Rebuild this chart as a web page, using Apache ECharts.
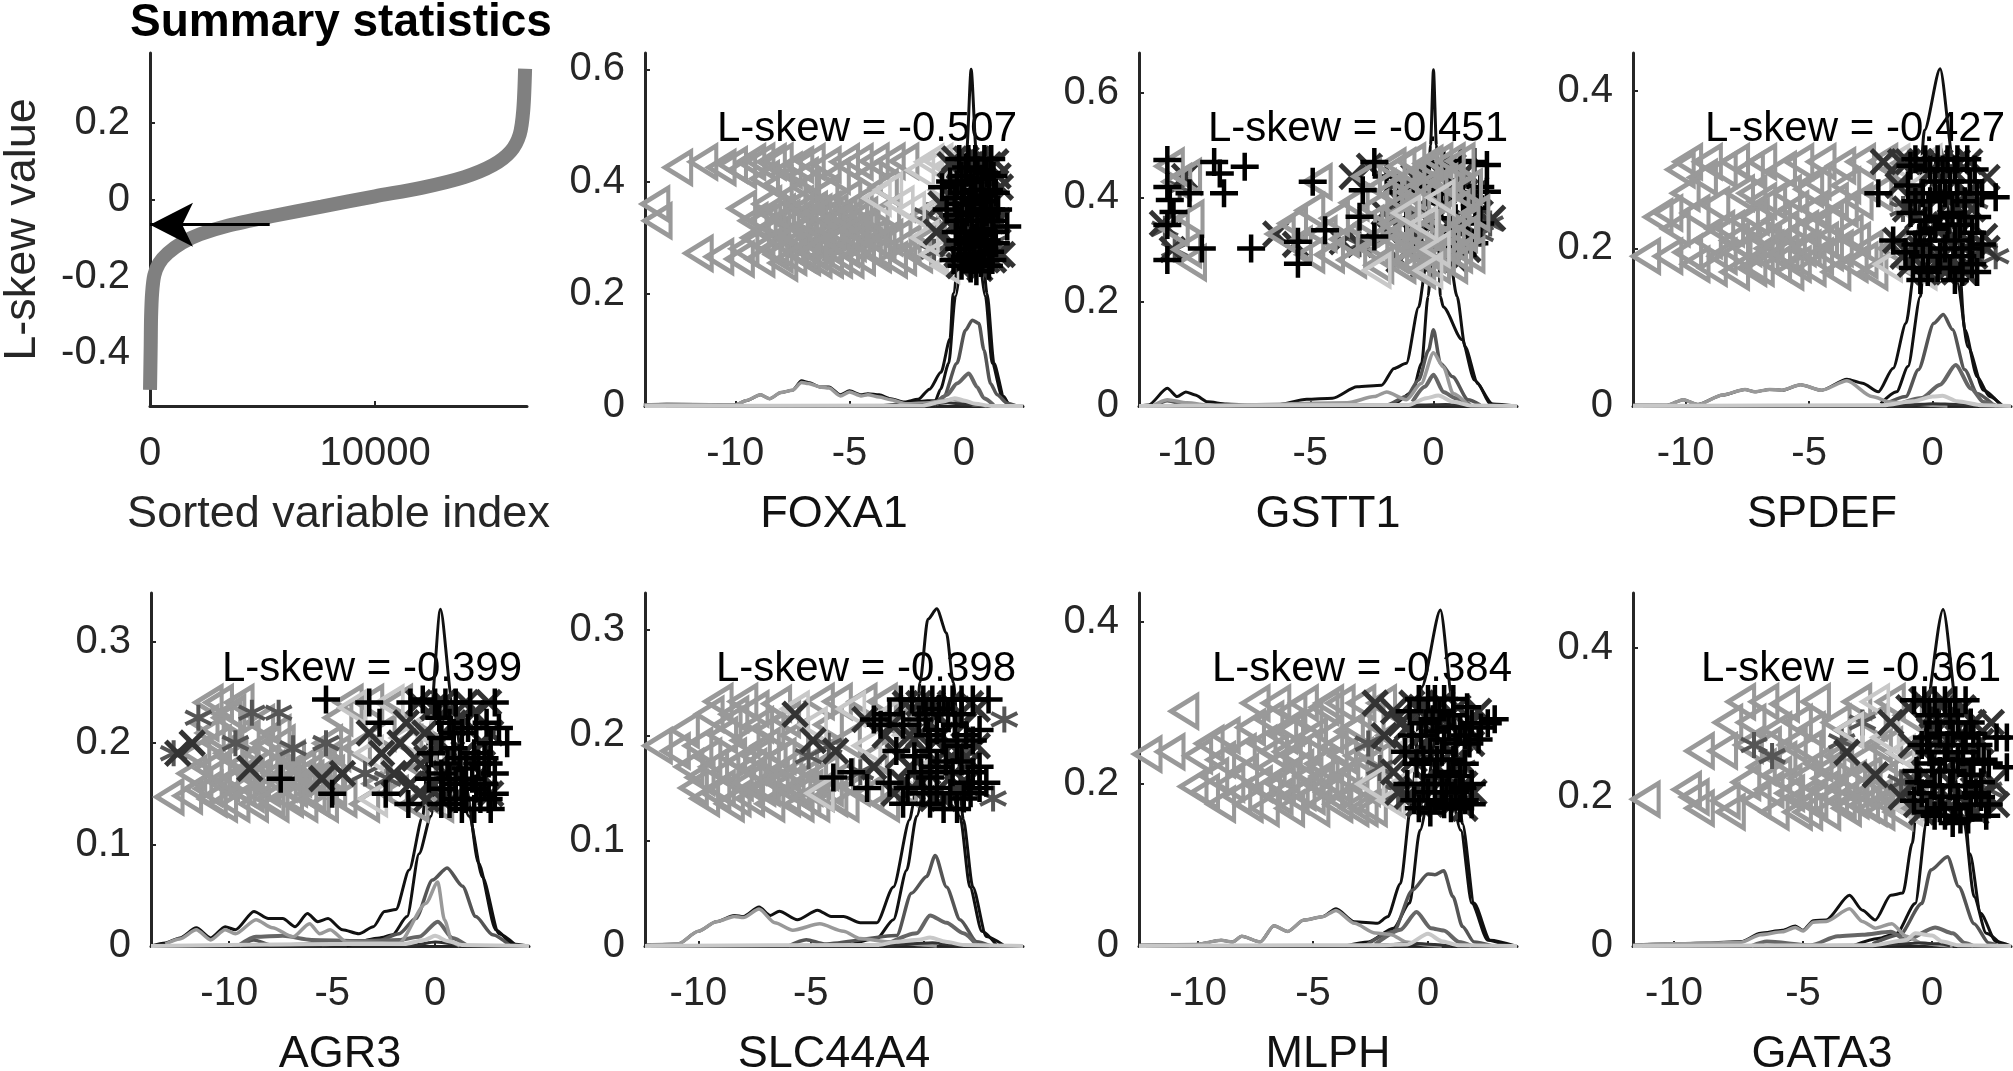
<!DOCTYPE html>
<html>
<head>
<meta charset="utf-8">
<title>L-skew summary</title>
<script src="https://cdn.jsdelivr.net/npm/echarts@6/dist/echarts.min.js"></script>
<style>
html,body{margin:0;padding:0;background:#fff}
#main{width:2013px;height:1071px}
</style>
</head>
<body>
<div id="main"></div>
<script>
// summary curve: sorted variable index, l-skew value
var summaryCurve = [[1,-0.495],[32,-0.377],[48,-0.305],[95,-0.242],[190,-0.197],[397,-0.166],[794,-0.139],[1430,-0.112],[2220,-0.09],[3490,-0.067],[5400,-0.043],[7620,-0.018],[10000,0.009],[12060,0.031],[13970,0.059],[15240,0.09],[16030,0.126],[16430,0.17],[16590,0.234],[16670,0.341]]
var arrowLine = [[5320,-0.065],[0,-0.065]]
var summaryXTicks = [0,10000]
var summaryYTicks = [-0.4,-0.2,0,0.2]
var geneXTicks = [-10,-5,0]

var geneNames = ['FOXA1','GSTT1','SPDEF','AGR3','SLC44A4','MLPH','GATA3']
var lskewValues = ['-0.507','-0.451','-0.427','-0.399','-0.398','-0.384','-0.361']

var foxa1YTicks = [0,0.2,0.4,0.6]
var gstt1YTicks = [0,0.2,0.4,0.6]
var spdefYTicks = [0,0.2,0.4]
var agr3YTicks = [0,0.1,0.2,0.3]
var slc44a4YTicks = [0,0.1,0.2,0.3]
var mlphYTicks = [0,0.2,0.4]
var gata3YTicks = [0,0.2,0.4]

// density curves, one list per group, back to front
var foxa1Lines = [
 [[-14,.002],[-13,.003],[-10.5,.002],[-10,.002],[-9.5,.01],[-8.9,.02],[-8.5,.013],[-8,.024],[-7.5,.028],[-7.1,.045],[-6.8,.042],[-6.3,.034],[-5.9,.034],[-5.4,.02],[-5,.027],[-4.5,.02],[-4.2,.022],[-3.7,.02],[-3.2,.013],[-2.6,.007],[-2,.012],[-1.5,.03],[-1,.06],[-.6,.12],[-.47,.2],[.12,.45],[.32,.6],[.55,.45],[1.02,.2],[1.32,.076],[1.75,.017],[1.97,.002],[2.6,0]],
 [[-3.5,.001],[-1.24,.01],[-1.02,.03],[-.66,.076],[-.37,.195],[.3,.42],[.95,.195],[1.24,.076],[1.68,.017],[2,.001]],
 [[-1.3,.001],[-.88,.017],[-.3,.076],[.07,.135],[.37,.153],[.66,.147],[.88,.1],[1.17,.04],[1.46,.02],[1.9,.005],[2.3,0]],
 [[-1.2,.002],[-.73,.02],[-.3,.04],[.22,.058],[.58,.034],[.88,.014],[1.3,.002]],
 [[-14,.002],[-13,.003],[-10.5,.002],[-10,.002],[-9.5,.01],[-8.9,.02],[-8.5,.013],[-8,.024],[-7.5,.028],[-7.1,.042],[-6.8,.04],[-6.3,.034],[-5.9,.032],[-5.4,.018],[-5,.025],[-4.5,.018],[-4.2,.02],[-3.7,.016],[-3.2,.011],[-2.5,.004],[-1.5,.006],[-1,.009],[-.5,.012],[0,.006],[.5,.002],[1,0]],
 [[-6,0],[-3,.001],[-1.5,.003],[-.7,.006],[0,.003],[.8,.001],[1.4,0]],
 [[-13.95,0],[-1.8,.001],[-.9,.008],[-.4,.014],[0,.01],[.5,.004],[1.2,0],[2.59,0]]
]
var gstt1Lines = [
 [[-11.9,0],[-11.56,.002],[-10.8,.034],[-10.4,.018],[-10.05,.027],[-9.67,.021],[-9.17,.008],[-8.4,.004],[-7.4,.002],[-6.4,.002],[-5.14,.013],[-4.1,.015],[-3.1,.037],[-2.1,.04],[-1.6,.072],[-1.1,.082],[-.6,.19],[-.3,.27],[-.12,.5],[0,.645],[.12,.5],[.28,.21],[.4,.19],[1.16,.127],[1.66,.05],[2.4,.004],[3.39,0]],
 [[-1.86,.002],[-1.6,.004],[-.85,.027],[-.48,.082],[-.22,.21],[0,.34],[.6,.3],[.96,.21],[1.28,.114],[1.8,.043],[2.3,.004],[2.7,0]],
 [[-11.3,0],[-10.8,.01],[-10,.002],[-9,0],[-1.9,.002],[-1.1,.018],[-.6,.05],[-.2,.107],[0,.146],[.28,.082],[.78,.056],[1.4,.012],[1.9,.002]],
 [[-.85,.008],[-.35,.037],[0,.06],[.4,.027],[.9,.015],[1.5,.002]],
 [[-11.4,0],[-10.8,.012],[-10,.006],[-9,.001],[-3.5,.006],[-2.4,.018],[-1.9,.027],[-1.1,.012],[-.5,.043],[0,.102],[.4,.075],[.8,.024],[1.4,.002]],
 [[-1.5,0],[-.5,.002],[.5,.003],[1.5,.001],[2,0]],
 [[-11.95,0],[-1,.002],[-.3,.015],[.2,.02],[.8,.008],[1.5,.001],[3.39,0]]
]
var spdefLines = [
 [[-12.13,.001],[-10.75,.001],[-10.1,.008],[-9.5,.002],[-8.5,.014],[-7.6,.021],[-7.2,.018],[-6.6,.021],[-6.1,.02],[-5.35,.027],[-4.5,.02],[-3.47,.034],[-2.84,.029],[-2.2,.018],[-1.6,.048],[-1.08,.105],[-.7,.18],[-.33,.35],[.3,.428],[.85,.308],[1.3,.097],[1.8,.037],[2.3,.012],[2.8,.001]],
 [[-2.1,.003],[-1.46,.018],[-1,.05],[-.5,.139],[-.2,.266],[.3,.33],[1,.156],[1.43,.075],[2.06,.02],[2.7,.003]],
 [[-2,.001],[-1.08,.012],[-.58,.046],[.05,.105],[.43,.116],[.8,.097],[1.3,.046],[1.8,.016],[2.4,.003]],
 [[-1.46,.001],[-.45,.01],[.3,.027],[.93,.052],[1.56,.022],[2.06,.005],[2.6,0]],
 [[-12.13,.001],[-10.75,.001],[-10.1,.008],[-9.5,.002],[-8.5,.014],[-7.6,.021],[-7.2,.018],[-6.6,.021],[-6.1,.02],[-5.35,.027],[-4.5,.02],[-3.47,.032],[-2.46,.012],[-1.7,.005],[-.95,.003],[0,.001],[.6,0]],
 [[-1.8,0],[-1,.001],[0,.003],[1,.002],[1.8,0]],
 [[-12.13,0],[-2,.001],[-.8,.006],[0,.012],[.4,.013],[1,.006],[2,.001],[3.17,0]]
]
var agr3Lines = [
 [[-13.8,0],[-13.1,.003],[-12.4,.008],[-11.6,.018],[-10.9,.008],[-10.2,.019],[-9.7,.016],[-8.8,.034],[-8.1,.027],[-7.4,.027],[-6.8,.019],[-6.2,.032],[-5.7,.024],[-5.2,.027],[-4.5,.016],[-3.7,.012],[-3,.019],[-2.46,.034],[-1.9,.036],[-1.26,.075],[-.6,.128],[-.3,.207],[.26,.332],[.84,.24],[1.5,.157],[2.1,.082],[2.95,.016],[3.75,.002],[4.56,0]],
 [[-4.3,0],[-2.7,.008],[-2.07,.011],[-1.36,.029],[-.78,.091],[-.2,.128],[.4,.24],[1.65,.128],[2.3,.068],[3.1,.012],[3.9,.001]],
 [[-9.5,0],[-8.8,.006],[-8,.001],[-2.9,.004],[-1.75,.012],[-.94,.027],[-.13,.065],[.58,.077],[1.33,.059],[1.97,.029],[2.8,.011],[3.6,.001]],
 [[-9.5,.001],[-8.7,.009],[-7.4,.01],[-6,.006],[-3.7,.005],[-1.75,.006],[-.78,.009],[.13,.024],[.84,.008],[1.5,.001]],
 [[-13.1,.002],[-12.4,.007],[-11.6,.016],[-10.9,.006],[-10.2,.016],[-9.7,.012],[-8.7,.026],[-7.9,.018],[-6.9,.009],[-6.1,.022],[-5.6,.012],[-5.1,.016],[-4.3,.004],[-1.75,.003],[-.45,.042],[.13,.063],[.45,.026],[.84,.003],[1.2,0]],
 [[-5.5,0],[-4.5,.002],[-1,.001],[0,.004],[1,.002],[1.6,0]],
 [[-13.8,0],[-5,.002],[-1.5,.002],[-.5,.006],[0,.01],[.6,.005],[1.3,.001],[4.56,0]]
]
var slc44a4Lines = [
 [[-12.3,.001],[-10.9,.002],[-10,.014],[-9.2,.023],[-8.4,.029],[-8,.028],[-7.3,.037],[-6.8,.029],[-6.4,.033],[-5.6,.025],[-4.7,.034],[-4.1,.028],[-3.55,.028],[-2.8,.022],[-2.07,.022],[-1.33,.056],[-.6,.12],[-.44,.135],[-.15,.25],[.2,.31],[.6,.32],[1.03,.297],[1.33,.25],[1.78,.12],[2.2,.056],[2.8,.009],[3.55,.001]],
 [[-3.25,.001],[-2.07,.007],[-1.33,.025],[-.74,.072],[-.3,.123],[.6,.23],[1.63,.123],[2.07,.056],[2.6,.014],[3.25,.001]],
 [[-6,0],[-5.2,.006],[-4.4,.002],[-1.18,.01],[-.53,.05],[.15,.066],[.53,.086],[1.03,.056],[1.63,.025],[2.37,.004],[3,0]],
 [[-1.5,.003],[-.3,.012],[.3,.029],[1.03,.022],[1.78,.012],[2.37,.001]],
 [[-12.3,.001],[-10.9,.002],[-10,.014],[-9.2,.023],[-8.4,.028],[-8,.027],[-7.3,.035],[-6.6,.022],[-5.8,.015],[-4.6,.021],[-3.55,.014],[-2.8,.007],[-1.5,.004],[0,.001],[.6,0]],
 [[-1.6,0],[-.6,.002],[.4,.003],[1.2,.001],[1.8,0]],
 [[-12.37,0],[-2,.001],[-1.2,.004],[-.2,.006],[.3,.008],[1,.004],[1.8,.001],[4.43,0]]
]
var mlphLines = [
 [[-12.57,.001],[-10.1,.002],[-9,.007],[-8.5,.005],[-8.1,.012],[-7.3,.005],[-6.7,.025],[-6.1,.018],[-5.4,.032],[-4.6,.036],[-4,.046],[-3.2,.03],[-2.2,.028],[-1.76,.036],[-1.2,.077],[-.73,.176],[-.27,.32],[.54,.415],[1.08,.3],[1.5,.151],[2,.053],[2.7,.007],[3.8,0]],
 [[-3.6,0],[-2.6,.005],[-1.5,.022],[-.8,.053],[-.35,.143],[.5,.28],[1.43,.143],[1.9,.053],[2.6,.007],[3.4,.001]],
 [[-2.7,.001],[-1.5,.018],[-.68,.069],[0,.089],[.3,.088],[.68,.093],[1.08,.061],[1.5,.024],[2,.005],[2.8,0]],
 [[-2.3,.002],[-1.2,.02],[-.5,.042],[.13,.022],[.68,.019],[1.35,.005],[1.9,0]],
 [[-12.57,.001],[-10.1,.002],[-9,.007],[-8.5,.005],[-8.1,.012],[-7.3,.005],[-6.7,.025],[-6.1,.018],[-5.4,.032],[-4.6,.036],[-4,.044],[-3.2,.028],[-2.3,.016],[-1.6,.014],[-.95,.005],[0,.001],[.6,0]],
 [[-2.5,0],[-.5,.003],[.3,.002],[1,0]],
 [[-12.57,0],[-5,.001],[-2,.001],[-.9,.002],[0,.015],[.6,.006],[1.3,.001],[3.87,0]]
]
var gata3Lines = [
 [[-11.6,.001],[-10,.003],[-8.7,.004],[-7.4,.006],[-6.65,.017],[-5.8,.021],[-5.3,.027],[-5,.021],[-4.6,.034],[-4.1,.035],[-3.2,.068],[-2.7,.048],[-2.2,.035],[-1.6,.068],[-1.13,.071],[-.77,.138],[-.4,.281],[.43,.452],[1.03,.303],[1.47,.124],[1.88,.044],[2.48,.006],[3.05,0]],
 [[-3,.001],[-2.1,.01],[-1.37,.017],[-.65,.057],[-.2,.169],[.4,.33],[1.23,.169],[1.63,.066],[2.1,.017],[2.7,.001]],
 [[-2.3,.003],[-1.25,.015],[-.4,.057],[-.05,.102],[.6,.12],[1.03,.08],[1.63,.03],[2.2,.004],[2.6,0]],
 [[-7,0],[-6.4,.006],[-4.7,.001],[-3.65,.013],[-2.7,.015],[-1.6,.019],[-1,.008],[.12,.025],[.8,.017],[1.27,.004],[1.6,0]],
 [[-11.6,.001],[-10,.003],[-8.7,.004],[-7.4,.005],[-6.65,.015],[-5.8,.019],[-5.3,.025],[-5,.02],[-4.6,.032],[-4.1,.033],[-3.2,.05],[-2.7,.033],[-2.2,.024],[-1.56,.03],[-1,.013],[-.4,.004],[.3,.001],[.8,0]],
 [[-5.5,0],[-3,.001],[-1.5,.002],[-.5,.004],[.3,.003],[.7,0]],
 [[-11.59,0],[-2.3,.001],[-1,.008],[-.65,.017],[0,.014],[.4,.006],[1,.001],[3.06,0]]
]

// markers: gray triangles
var foxa1Tri = [[-13.5,.36],[-13.4,.33],[-12.5,.425],[-11.4,.435],[-10.6,.425],[-10.1,.43],[-9.7,.42],[-9.3,.435],[-8.9,.436],[-8.4,.435],[-8.1,.436],[-8.7,.405],[-7.7,.42],[-7.2,.43],[-6.7,.435],[-6,.43],[-5.2,.435],[-4.6,.435],[-3.9,.436],[-3.2,.436],[-2.6,.436],[-11.6,.272],[-10.7,.266],[-9.8,.262],[-9.6,.28],[-9.7,.352],[-9.2,.33],[-9.1,.3],[-8.9,.262],[-8.6,.36],[-8.5,.31],[-8.3,.28],[-8,.345],[-7.9,.255],[-7.7,.3],[-7.5,.375],[-7.3,.33],[-7.1,.27],[-6.9,.39],[-6.8,.305],[-6.6,.35],[-6.4,.26],[-6.2,.32],[-6.1,.38],[-5.9,.285],[-5.7,.345],[-5.5,.26],[-5.4,.31],[-5.1,.37],[-4.9,.29],[-4.8,.34],[-4.5,.265],[-4.3,.32],[-4,.3],[-3.8,.27],[-3.4,.345],[-3.1,.26],[-2.9,.3],[-2.5,.29],[-2,.27],[-7.6,.285],[-7,.35],[-6.5,.295],[-5.8,.31],[-5.2,.28],[-8.2,.32],[-6.9,.265],[-4.6,.36],[-1.7,.34],[-1.4,.3],
 [-8.8,.33],[-8.4,.345],[-8.1,.27],[-7.8,.335],[-7.4,.305],[-7.2,.36],[-7,.29],[-6.7,.325],[-6.4,.345],[-6.3,.285],[-6,.35],[-5.9,.26],[-5.6,.295],[-5.3,.34],[-5,.26],[-4.7,.3],[-4.4,.34],[-4.2,.285],[-3.9,.335],[-3.6,.29],[-3.3,.3],[-8.6,.285],[-7.5,.265],[-6.6,.275],[-5.5,.33],[-4.8,.315],[-2.7,.265],[-3.5,.39],[-5.6,.41],[-4.2,.41],[-7,.41],[-8.1,.395]]
var gstt1Tri = [[-10.7,.46],[-10.4,.43],[-10,.44],[-10.5,.34],[-10,.3],[-9.8,.275],[-9.9,.36],[-6.2,.33],[-5.7,.35],[-5.5,.31],[-5,.29],[-5,.375],[-4.7,.43],[-4.5,.33],[-4.2,.29],[-4,.36],[-3.6,.32],[-3.3,.28],[-3.2,.39],[-2.9,.34],[-2.7,.44],[-2.4,.3],[-2.4,.38],[-2.2,.27],[-2.1,.42],[-1.9,.33],[-1.7,.46],[-1.6,.29],[-1.5,.38],[-1.3,.27],[-1.2,.43],[-1.1,.34],[-.9,.47],[-.8,.3],[-.7,.39],[-.5,.26],[-.4,.45],[-.3,.34],[-.1,.29],[0,.41],[.1,.27],[.2,.47],[.3,.36],[.5,.31],[.6,.43],[.8,.27],[.9,.38],[1.1,.47],[1.2,.33],[1.4,.42],[1.5,.29],[1.7,.37],
 [-2.6,.35],[-2,.3],[-1.8,.41],[-1.4,.33],[-1.2,.37],[-1,.28],[-.9,.41],[-.6,.33],[-.3,.42],[-.2,.3],[.1,.35],[.3,.29],[.4,.43],[.7,.33],[1,.29],[1.1,.41],[1.3,.35],[-1.6,.35],[-.7,.27],[-.2,.465],[.7,.47],[-1.3,.46]]
var spdefTri = [[-11.6,.19],[-10.7,.19],[-11.1,.24],[-10.7,.245],[-10.4,.225],[-10.2,.3],[-9.9,.31],[-10,.27],[-9.9,.195],[-9.6,.18],[-9.6,.245],[-9.3,.29],[-9.1,.31],[-9.1,.21],[-8.9,.175],[-8.8,.255],[-8.5,.3],[-8.5,.19],[-8.2,.225],[-8,.31],[-8,.17],[-7.8,.27],[-7.5,.2],[-7.4,.3],[-7.2,.24],[-7,.175],[-6.9,.31],[-6.7,.21],[-6.5,.26],[-6.3,.18],[-6.1,.3],[-6,.225],[-5.8,.17],[-5.6,.25],[-5.4,.31],[-5.3,.2],[-5,.275],[-4.9,.175],[-4.7,.23],[-4.5,.31],[-4.2,.195],[-4,.26],[-3.9,.17],[-3.7,.305],[-3.4,.22],[-3.2,.18],[-3,.26],[-2.9,.31],[-2.6,.2],[-2.4,.17],[-2.2,.27],[-2,.31],[-6.6,.2],[-7.9,.195],[-5.2,.225],[-4.4,.21],[-8.6,.225],[-1.6,.2],[-1.5,.3],[-1,.18],
 [-8,.21],[-7.6,.235],[-7.3,.175],[-7,.22],[-6.8,.19],[-6.3,.235],[-6,.195],[-5.7,.215],[-5.5,.18],[-5.1,.2],[-4.8,.25],[-4.6,.19],[-4.2,.235],[-3.8,.2],[-3.6,.25],[-3.1,.21],[-2.8,.185],[-6.9,.26],[-5.9,.27],[-7.3,.27],[-4.7,.285],[-3.5,.28]]
var agr3Tri = [[-12.9,.147],[-12,.148],[-11.8,.17],[-11.6,.19],[-11.5,.155],[-11.2,.22],[-11,.24],[-11,.175],[-10.8,.145],[-10.6,.2],[-10.5,.24],[-10.2,.16],[-10.1,.225],[-9.8,.185],[-9.7,.14],[-9.5,.24],[-9.4,.155],[-9.2,.205],[-9,.17],[-8.8,.14],[-8.6,.19],[-8.5,.22],[-8.2,.155],[-8,.175],[-7.8,.14],[-7.5,.2],[-7.4,.16],[-7.1,.145],[-7,.185],[-6.7,.165],[-6.4,.14],[-6.2,.18],[-6,.15],[-5.7,.165],[-5.4,.14],[-5.2,.2],[-5,.155],[-4.7,.225],[-4.5,.145],[-4.2,.24],[-3.8,.195],[-3.4,.14],[-3.2,.24],[-2.8,.16],[-2.6,.21],[-2,.15],[-1.8,.24],[-1.3,.2],[-1,.14],[-.6,.175],[-.3,.22],[.2,.14],
 [-11,.155],[-10.6,.17],[-10.3,.14],[-10,.19],[-9.6,.165],[-9.3,.18],[-9,.15],[-8.7,.165],[-8.3,.18],[-8,.145],[-7.7,.17],[-7.2,.17],[-6.9,.155],[-6.5,.175],[-6.1,.165],[-5.8,.145],[-5.5,.18],[-5.1,.17],[-4.8,.19],[-10.9,.21],[-9.9,.23],[-8.2,.2],[-7.7,.21]]
var slc44a4Tri = [[-11.8,.19],[-11,.185],[-10.6,.205],[-10.4,.17],[-10.2,.15],[-10,.19],[-9.7,.14],[-9.5,.22],[-9.3,.17],[-9.1,.232],[-9,.15],[-8.9,.2],[-8.6,.135],[-8.5,.18],[-8.4,.22],[-8.2,.155],[-8,.232],[-7.9,.195],[-7.7,.14],[-7.6,.17],[-7.3,.21],[-7.2,.15],[-7,.19],[-6.8,.135],[-6.6,.16],[-6.5,.23],[-6.3,.18],[-6.1,.14],[-5.9,.155],[-5.7,.2],[-5.5,.135],[-5.3,.17],[-5.1,.15],[-4.8,.135],[-4.6,.232],[-4.4,.165],[-4.2,.21],[-4,.14],[-3.8,.232],[-3.5,.135],[-3.4,.195],[-3,.15],[-2.7,.232],[-2.4,.145],[-2.2,.18],[-1.8,.232],[-1.7,.135],[-1.2,.21],[-.9,.15],
 [-9.9,.16],[-9.6,.18],[-9.2,.145],[-8.8,.165],[-8.3,.14],[-8.1,.175],[-7.8,.155],[-7.4,.18],[-7,.15],[-6.7,.175],[-6.4,.155],[-6,.17],[-5.6,.15],[-5.2,.14],[-4.9,.165],[-4.6,.145],[-4.2,.15],[-3.7,.16],[-8.7,.21],[-7.5,.225],[-6.8,.205],[-6.1,.215]]
var mlphTri = [[-12.2,.237],[-11.2,.24],[-10.6,.29],[-10.2,.197],[-10,.235],[-9.7,.19],[-9.5,.25],[-9.3,.21],[-9,.175],[-9,.23],[-8.8,.26],[-8.6,.2],[-8.3,.185],[-8.1,.24],[-8,.215],[-7.8,.175],[-7.7,.27],[-7.5,.3],[-7.4,.2],[-7.2,.25],[-7.1,.17],[-6.9,.28],[-6.8,.22],[-6.6,.3],[-6.5,.185],[-6.3,.26],[-6.2,.21],[-6,.17],[-5.9,.29],[-5.7,.235],[-5.5,.19],[-5.4,.3],[-5.2,.21],[-5,.26],[-4.9,.17],[-4.7,.225],[-4.5,.295],[-4.3,.19],[-4.1,.245],[-3.9,.175],[-3.8,.3],[-3.6,.21],[-3.4,.265],[-3.2,.17],[-3,.235],[-2.9,.3],[-2.7,.195],[-2.5,.28],[-2.4,.17],[-2.2,.23],[-2,.3],[-1.8,.185],[-1.6,.26],
 [-7,.195],[-6.7,.24],[-6.4,.2],[-6.1,.24],[-5.8,.185],[-5.6,.22],[-5.3,.245],[-5.1,.185],[-4.8,.2],[-4.5,.21],[-4.3,.26],[-4,.2],[-3.7,.235],[-3.5,.185],[-3.2,.215],[-2.8,.17],[-2.6,.24],[-6,.27],[-5.2,.28],[-4.3,.3],[-3.1,.27]]
var gata3Tri = [[-11.1,.197],[-9.5,.21],[-9.2,.2],[-9,.185],[-9,.262],[-8.1,.262],[-8,.195],[-7.9,.3],[-7.8,.18],[-7.4,.328],[-7.2,.22],[-7.1,.27],[-7,.3],[-6.8,.195],[-6.6,.24],[-6.5,.328],[-6.3,.21],[-6.1,.18],[-6,.29],[-5.8,.25],[-5.7,.325],[-5.5,.205],[-5.2,.18],[-5.2,.3],[-5,.225],[-4.8,.265],[-4.6,.195],[-4.5,.328],[-4.2,.21],[-4.1,.18],[-3.9,.24],[-3.7,.3],[-3.5,.195],[-3.3,.185],[-3.1,.225],[-2.9,.328],[-2.7,.25],[-2.6,.19],[-2.3,.3],[-2.1,.2],[-2,.18],[-1.7,.27],[-1.6,.328],[-1.4,.2],[-1.2,.24],[-.9,.31],[-.7,.19],
 [-6.4,.27],[-6,.23],[-5.6,.22],[-5.4,.27],[-5,.2],[-4.8,.18],[-4.4,.245],[-4.1,.225],[-3.8,.2],[-3.6,.255],[-3.4,.215],[-3,.195],[-2.8,.21],[-2.5,.23],[-2.3,.185],[-1.9,.225],[-1.6,.2],[-1.3,.18],[-1,.21],[-4.7,.29],[-3.2,.29],[-2.1,.27]]

// light triangles
var foxa1Light = [[-3.8,.37],[-3.3,.385],[-2.8,.36],[-2.3,.35],[-1.9,.42],[-1.5,.435],[-1.1,.436],[-.9,.385],[-.6,.43],[-1.3,.27],[-.8,.25],[-1.7,.3],[-1.1,.355],[-.3,.36],[-.9,.35]]
var gstt1Light = [[-2.3,.26],[-1.1,.37],[-.4,.35],[.1,.3],[.3,.4],[-.2,.26]]
var spdefLight = [[-1.5,.31],[-.9,.25],[-.5,.28],[-.2,.31],[-1.8,.18],[-1.2,.2],[-.4,.17]]
var agr3Light = [[-4,.235],[-3.2,.19],[-3,.145],[-2.2,.24],[-1.5,.205],[-.8,.215],[-.2,.19],[-.2,.15]]
var slc44a4Light = [[-5.7,.225],[-4.9,.21],[-3.2,.225],[-2.5,.19],[-1.5,.22],[-.7,.2],[-4.6,.145],[-.4,.16]]
var mlphLight = [[-2.5,.2],[-1.6,.18],[-.9,.245],[-.5,.25],[-1.1,.2]]
var gata3Light = [[-3.2,.29],[-2.2,.328],[-1.8,.28],[-1.2,.26],[-.5,.245],[-.9,.185]]

// gray stars
var foxa1Star = [[-1.3,.275],[-1.6,.34],[.7,.41],[1.3,.29]]
var gstt1Star = [[-10.9,.34],[-10.3,.42],[1.9,.33],[2.3,.35],[-3,.31],[-10.5,.3]]
var spdefStar = [[2.55,.19],[-1.2,.25],[1.7,.26],[2,.2],[-.6,.2]]
var agr3Star = [[-12.7,.19],[-11.5,.225],[-9.7,.2],[-8.9,.23],[-7.6,.23],[-6.9,.195],[-5.3,.2],[-3.4,.17],[-2.3,.165]]
var slc44a4Star = [[3.6,.215],[3.1,.14],[-5.1,.18],[-4.2,.19],[-2.8,.165],[1.9,.185]]
var mlphStar = [[-2.6,.25],[-2.1,.22],[-1.3,.19],[1.5,.22]]
var gata3Star = [[-6.9,.27],[-6.2,.255],[-3.5,.275],[-2.7,.3],[-1.2,.22],[2.2,.21]]

// dark crosses
var foxa1Cross = [[-.6,.43],[-.2,.39],[.3,.43],[.8,.42],[1.4,.435],[1.6,.39],[-.7,.33],[-.2,.35],[.4,.36],[.9,.33],[1.5,.33],[-.5,.29],[.1,.29],[.5,.26],[.9,.29],[1.68,.27],[-.2,.25],[1.3,.26],[-1,.36],[-1.2,.31],
 [-.4,.44],[.1,.44],[.6,.44],[1.1,.43],[-.1,.42],[.5,.39],[1,.39],[1.5,.41],[-.5,.37],[.2,.37],[.7,.35],[1.2,.36],[-.5,.32],[.3,.32],[.7,.31],[1.2,.33],[-.3,.27],[.5,.28],[1,.26],[1.5,.27],[.1,.26],[.7,.245]]
var gstt1Cross = [[-11,.35],[-10.6,.3],[-10.1,.44],[-6.4,.33],[-5.6,.31],[-3.7,.315],[-3.3,.44],[-3,.31],[-2.6,.46],[-2,.37],[-1.5,.43],[-1,.3],[-.5,.38],[.2,.45],[.6,.35],[1,.41],[1.4,.3],[1.9,.37],[2.4,.36],[.1,.31],[-.4,.27],
 [-1.8,.33],[-1.3,.39],[-.8,.44],[-.2,.4],[.4,.41],[.8,.46],[1.3,.45],[1.7,.41],[-.8,.33],[-.1,.35],[.5,.29],[1.1,.34],[1.6,.33],[-1.4,.28],[.9,.28]]
var spdefCross = [[-2,.31],[-1.4,.28],[-1.5,.21],[-1,.31],[-.7,.27],[-.3,.23],[0,.3],[.4,.19],[.7,.26],[1,.31],[1.3,.2],[1.6,.25],[2.2,.2],[2.2,.29],[-.9,.18],[.1,.23],[2.1,.215],[.9,.17],
 [-1.3,.31],[-.5,.31],[.3,.31],[.8,.3],[1.5,.31],[-1.1,.25],[-.6,.24],[.4,.27],[1,.25],[1.4,.27],[-1.2,.19],[-.5,.2],[.1,.19],[.6,.21],[1.1,.22],[1.7,.19],[-.2,.17],[.5,.17],[1.3,.17]]
var agr3Cross = [[-12.5,.19],[-11.8,.2],[-9,.175],[-5.5,.165],[-4.5,.17],[-3.2,.21],[-2.6,.19],[-2,.17],[-1.4,.22],[-1,.185],[-.5,.21],[-.1,.16],[.4,.24],[.8,.19],[1.3,.225],[1.7,.16],[2.3,.2],[2.6,.24],[-.8,.15],[1.1,.15],
 [-1.7,.2],[-1.2,.16],[-.8,.24],[-.4,.185],[-.1,.235],[.2,.2],[.5,.17],[.9,.22],[1.4,.19],[1.9,.23],[2.2,.17],[2.7,.21],[-.4,.145],[.3,.145],[1.5,.24],[2.7,.15]]
var slc44a4Cross = [[-5.7,.22],[-4.9,.195],[-3.9,.185],[-2.6,.215],[-2.2,.17],[-1.7,.2],[-1.1,.18],[-.8,.23],[-.5,.15],[-.2,.2],[.2,.165],[.6,.22],[1,.185],[1.5,.15],[1.8,.21],[2.1,.175],[2.4,.225],[-1.3,.145],[.9,.14],
 [-1.4,.21],[-.9,.155],[-.6,.2],[-.2,.23],[.1,.185],[.4,.14],[.8,.2],[1.2,.23],[1.5,.185],[1.9,.155],[2.4,.19],[-.1,.155],[1.2,.16],[2.1,.23],[.4,.23],[-.6,.17]]
var mlphCross = [[-2.3,.3],[-1.9,.26],[-1.5,.215],[-1.2,.275],[-.9,.185],[-.6,.23],[-.3,.295],[0,.2],[.3,.26],[.6,.18],[1,.24],[1.3,.295],[1.6,.2],[1.9,.25],[2.2,.29],[-.4,.175],[.9,.195],[2,.19],
 [-1.5,.29],[-1,.24],[-.7,.3],[-1.3,.19],[-.5,.195],[-.2,.25],[.1,.29],[.4,.22],[.7,.28],[.8,.21],[1.2,.18],[1.4,.23],[1.7,.27],[.1,.175],[-.9,.27],[.6,.3],[1.6,.17]]
var gata3Cross = [[-3.3,.26],[-2.2,.23],[-1.6,.3],[-1.2,.2],[-.8,.27],[-.4,.33],[-.1,.225],[.2,.29],[.5,.19],[.9,.25],[1.2,.32],[1.6,.21],[1.9,.275],[2.4,.22],[2.5,.19],[-.6,.19],[1.1,.2],[2.3,.3],
 [-.9,.32],[-.7,.22],[-.3,.26],[0,.31],[.1,.19],[.4,.27],[.7,.31],[1,.28],[.7,.22],[1.3,.24],[1.6,.3],[1.7,.18],[-.4,.18],[1,.18],[2,.2],[-.1,.29],[.4,.33]]

// black plus signs
var foxa1Plus = [[-.2,.44],[.2,.44],[.5,.44],[.9,.44],[1.2,.44],[-.6,.4],[-.1,.41],[.3,.4],[.8,.405],[1.3,.41],[-.4,.37],[0,.38],[.45,.37],[.9,.365],[1.4,.38],[-.3,.34],[.15,.345],[.6,.33],[1,.345],[1.5,.35],[-.35,.31],[.05,.31],[.45,.3],[.85,.315],[1.25,.31],[1.9,.32],[-.2,.28],[.25,.27],[.7,.285],[1.15,.275],[-.1,.25],[.3,.245],[.75,.255],[1.1,.25],[1.4,.29],[-.95,.39],[-.75,.35],
 [.1,.425],[.6,.42],[1,.415],[-.3,.395],[.5,.385],[1.1,.385],[-.1,.36],[.3,.36],[.75,.375],[1.2,.35],[-.1,.33],[.35,.33],[.8,.34],[1.3,.33],[-.15,.295],[.25,.29],[.6,.305],[1,.295],[.05,.265],[.45,.26],[.9,.27],[1.25,.26],[.55,.24],[-.45,.26]]
var gstt1Plus = [[.4,.468],[1.66,.468],[2.17,.462],[2.17,.411],[-.3,.41],[1.2,.41],[1.66,.312],[.9,.305],[.7,.46],[1.5,.4],[1.9,.35],[.5,.41],[-.1,.3],[1.2,.36],[.2,.34],[1.9,.42],
 [-.8,.415],[0,.42],[.8,.41],[-.2,.445],[1.1,.47],[-1.1,.36],[-.5,.31],[.5,.32],[1.4,.33],[.9,.36],[-1.4,.41],[-1.9,.44],[1.7,.38],[.3,.39]]
var gstt1PlusOutliers = [[-10.8,.472],[-10.8,.42],[-10.7,.395],[-10.55,.372],[-9.9,.408],[-8.9,.468],[-8.67,.446],[-8.5,.408],[-7.66,.459],[-10.8,.347],[-10.8,.28],[-9.4,.302],[-7.4,.302],[-5.5,.315],[-5.5,.273],[-4.9,.43],[-2.4,.468],[-2.87,.414],[-3,.363],[-4.4,.337],[-2.4,.325]]
var spdefPlus = [[-.7,.313],[-.3,.313],[.2,.313],[.6,.313],[1,.313],[1.4,.313],[-2.2,.27],[-1,.28],[-.4,.27],[.1,.285],[.5,.27],[1,.27],[1.5,.285],[2.55,.265],[2,.27],[-.9,.245],[-.3,.235],[.3,.24],[.8,.245],[1.3,.24],[1.8,.24],[-1.6,.21],[-.7,.205],[-.1,.21],[.5,.2],[.9,.21],[1.5,.2],[2,.205],[-.8,.175],[-.2,.17],[.2,.175],[.7,.175],[1.2,.17],[1.6,.18],[.4,.3],[-.1,.26],
 [-.9,.305],[-.1,.3],[.9,.3],[1.7,.3],[-.7,.26],[.3,.265],[.7,.285],[1.3,.26],[1.8,.27],[-.5,.22],[.1,.225],[.6,.23],[1.1,.23],[1.6,.22],[-1.1,.195],[-.4,.19],[.3,.19],[1.2,.19],[1.8,.17],[-.5,.16],[.9,.16]]
var agr3Plus = [[-5.3,.243],[-3.2,.24],[-2.7,.22],[-1.2,.24],[-.6,.243],[0,.24],[.5,.24],[1,.24],[1.7,.24],[2.9,.24],[3.1,.215],[3.5,.2],[2.5,.22],[1.6,.215],[.9,.21],[.3,.205],[1.9,.19],[1.2,.185],[.6,.18],[2.4,.185],[2.9,.17],[1.8,.165],[1,.16],[.4,.155],[2.4,.16],[2.9,.15],[1.5,.145],[.7,.14],[2.2,.145],[-7.5,.165],[-5,.15],[-2.4,.15],[-1.3,.14],[-.2,.19],
 [.2,.225],[.7,.22],[1.3,.21],[2,.215],[2.7,.2],[.9,.195],[1.5,.175],[2.1,.18],[2.6,.18],[.7,.165],[1.3,.16],[2,.155],[2.6,.145],[1,.145],[.3,.17],[1.9,.135],[.3,.14],[1.3,.135],[2.7,.135],[-.3,.165]]
var slc44a4Plus = [[-1,.234],[-.5,.234],[0,.234],[.4,.234],[.9,.234],[1.3,.234],[1.7,.234],[2.2,.234],[2.9,.234],[-2.2,.215],[-1.9,.21],[-1.5,.22],[-.9,.21],[-.2,.215],[.6,.205],[1.4,.21],[1.9,.2],[2.5,.205],[-1.2,.185],[-.4,.18],[.3,.185],[1,.175],[1.7,.175],[2.2,.165],[2.8,.155],[2.5,.15],[-3.2,.165],[-4,.16],[-1.5,.155],[-.7,.15],[0,.145],[.6,.15],[1.2,.145],[1.8,.14],[2.1,.145],[-2.5,.15],
 [.1,.22],[.7,.225],[1.1,.22],[1.7,.22],[.2,.2],[.9,.195],[2.2,.195],[-.1,.165],[.6,.17],[1.3,.165],[2,.155],[.3,.135],[.9,.13],[1.5,.13],[2.5,.17],[-.9,.135],[.3,.16],[1.5,.19]]
var mlphPlus = [[-.4,.305],[0,.305],[.3,.305],[.7,.305],[1.1,.305],[1.7,.295],[2.6,.275],[2.9,.28],[1.9,.275],[1.4,.27],[.9,.27],[.4,.265],[-.1,.275],[-.7,.26],[2.2,.255],[1.8,.25],[1.2,.25],[.6,.24],[.1,.24],[-.5,.225],[1.6,.225],[.9,.215],[.3,.21],[-.2,.2],[-.9,.2],[1.5,.195],[.8,.19],[1.9,.2],[1.6,.18],[.3,.18],[-.4,.17],[1.9,.175],[1,.17],
 [-.8,.29],[.5,.29],[1.1,.285],[-.3,.26],[.2,.28],[1.6,.26],[2.3,.27],[.7,.255],[-.2,.23],[.4,.23],[1.1,.23],[1.4,.21],[.6,.2],[0,.19],[1.2,.19],[-.6,.18],[.7,.175],[1.4,.17],[.1,.165],[-1,.24]]
var gata3Plus = [[-.7,.33],[-.3,.33],[.1,.33],[.5,.33],[.9,.33],[1.3,.33],[2.9,.28],[2.5,.28],[1.8,.27],[1.3,.28],[.8,.285],[.3,.285],[-.2,.28],[2.9,.24],[2.2,.245],[1.6,.245],[1,.25],[.5,.25],[0,.245],[-.6,.235],[1.9,.22],[1.3,.215],[.7,.215],[.1,.215],[-.4,.205],[1.5,.19],[2.2,.19],[.9,.185],[.3,.185],[-.2,.18],[1.9,.2],[2.1,.175],[1.1,.17],[.5,.175],
 [-.1,.31],[.7,.31],[1.5,.3],[.2,.3],[1,.3],[1.6,.285],[-.4,.27],[.6,.27],[1.2,.26],[2,.25],[-.1,.26],[.3,.235],[.8,.235],[1.5,.23],[-.5,.22],[.4,.2],[1,.2],[1.7,.205],[-.7,.195],[.1,.175],[1.4,.17],[.8,.165]]

var triPath = 'path://M0 16L26 0L26 32Z'
var plusPath = 'path://M0 13L26 13M13 0L13 26'
var crossPath = 'path://M0 0L22 22M0 22L22 0'
var starPath = 'path://M12 0L12 24M1.6 6L22.4 18M1.6 18L22.4 6'

var lineColors = ['#111','#111','#555','#666','#999','#333','#c8c8c8']
var lineWidths = [3,3,3.5,4,3.5,3,4]

var fontName = '"Liberation Sans",Arial,sans-serif'

var panels = [
	{lines:foxa1Lines,tri:foxa1Tri,light:foxa1Light,star:foxa1Star,cross:foxa1Cross,plus:foxa1Plus,yTicks:foxa1YTicks,left:645,top:53,xMin:-13.95,xMax:2.59,yMax:.629,textRight:1017},
	{lines:gstt1Lines,tri:gstt1Tri,light:gstt1Light,star:gstt1Star,cross:gstt1Cross,plus:gstt1Plus,plusTop:gstt1PlusOutliers,yTicks:gstt1YTicks,left:1139,top:53,xMin:-11.95,xMax:3.39,yMax:.677,textRight:1508,triOnTop:true},
	{lines:spdefLines,tri:spdefTri,light:spdefLight,star:spdefStar,cross:spdefCross,plus:spdefPlus,yTicks:spdefYTicks,left:1633,top:53,xMin:-12.13,xMax:3.17,yMax:.448,textRight:2005},
	{lines:agr3Lines,tri:agr3Tri,light:agr3Light,star:agr3Star,cross:agr3Cross,plus:agr3Plus,yTicks:agr3YTicks,left:151,top:593,xMin:-13.8,xMax:4.56,yMax:.348,textRight:522},
	{lines:slc44a4Lines,tri:slc44a4Tri,light:slc44a4Light,star:slc44a4Star,cross:slc44a4Cross,plus:slc44a4Plus,yTicks:slc44a4YTicks,left:645,top:593,xMin:-12.37,xMax:4.43,yMax:.335,textRight:1016},
	{lines:mlphLines,tri:mlphTri,light:mlphLight,star:mlphStar,cross:mlphCross,plus:mlphPlus,yTicks:mlphYTicks,left:1139,top:593,xMin:-12.57,xMax:3.87,yMax:.436,textRight:1512},
	{lines:gata3Lines,tri:gata3Tri,light:gata3Light,star:gata3Star,cross:gata3Cross,plus:gata3Plus,yTicks:gata3YTicks,left:1633,top:593,xMin:-11.59,xMax:3.06,yMax:.474,textRight:2001}
]

function makeAxis(type,ticks,min,max,name,nameGap,idx,labelMargin){
	return {
		type:'value',gridIndex:idx,min:min,max:max,
		name:name,nameLocation:'middle',nameGap:nameGap,
		nameTextStyle:{fontFamily:fontName,fontSize:45,color:type=='x' && idx>0 ? '#111' : '#262626'},
		axisLine:{show:true,onZero:false,lineStyle:{color:'#262626',width:3}},
		axisTick:{show:true,inside:true,length:5,customValues:ticks,lineStyle:{color:'#262626',width:2}},
		axisLabel:{show:true,customValues:ticks,margin:labelMargin,fontFamily:fontName,fontSize:40,color:'#262626',
			padding:type=='y' ? [8,0,0,0] : 0,
			formatter:function(v){return String(v)}},
		splitLine:{show:false}
	}
}

function markerSeries(idx,name,data,path,size,color,width,z){
	return {
		name:name,type:'scatter',xAxisIndex:idx,yAxisIndex:idx,data:data,clip:false,silent:true,z:z||4,
		symbol:path,symbolSize:size,
		itemStyle:{color:'transparent',borderColor:color,borderWidth:width,opacity:1},
		emphasis:{disabled:true}
	}
}

// grids must stay where they are put, names hang outside the canvas margin otherwise
var grids = [{left:150,top:53,width:377,height:353,outerBoundsMode:'none'}]
var xAxes = [makeAxis('x',summaryXTicks,0,16755,'Sorted variable index',86,0,28)]
var yAxes = [makeAxis('y',summaryYTicks,-0.537,0.382,'L-skew value',105,0,20)]
var titles = [{text:'Summary statistics',left:336,top:-5,textAlign:'center',textStyle:{fontFamily:fontName,fontSize:46,fontWeight:'bold',color:'#000'}}]
var series = [{
	name:'summary',type:'line',xAxisIndex:0,yAxisIndex:0,data:summaryCurve,showSymbol:false,smooth:0.3,clip:false,silent:true,
	lineStyle:{color:'#808080',width:14,cap:'butt'},
	markLine:{silent:true,animation:false,symbol:['none','arrow'],symbolSize:[33,43],label:{show:false},
		lineStyle:{color:'#000',width:3,type:'solid'},
		data:[[{coord:arrowLine[0]},{coord:arrowLine[1]}]]}
}]

panels.forEach(function(p,i){
	var idx = i+1
	grids.push({left:p.left,top:p.top,width:378,height:353,outerBoundsMode:'none'})
	xAxes.push(makeAxis('x',geneXTicks,p.xMin,p.xMax,geneNames[i],86,idx,28))
	yAxes.push(makeAxis('y',p.yTicks,0,p.yMax,'',0,idx,20))
	titles.push({text:'L-skew = '+lskewValues[i],right:2013-p.textRight,top:p.top+55,padding:0,z:0,textStyle:{fontFamily:fontName,fontSize:42,fontWeight:'normal',color:'#000'}})
	series.push(markerSeries(idx,'tri',p.tri,triPath,[26,32],'#999',4.5,p.triOnTop?5:4))
	series.push(markerSeries(idx,'star',p.star,starPath,[26,26],'#555',4))
	series.push(markerSeries(idx,'light',p.light,triPath,[26,32],'#c8c8c8',4,p.triOnTop?5:4))
	series.push(markerSeries(idx,'cross',p.cross,crossPath,[24,24],'#333',5))
	series.push(markerSeries(idx,'plus',p.plus,plusPath,[28,28],'#000',4.5))
	if(p.plusTop) series.push(markerSeries(idx,'plusTop',p.plusTop,plusPath,[28,28],'#000',4.5,6))
	p.lines.forEach(function(curve,k){
		series.push({
			name:'group'+k,type:'line',xAxisIndex:idx,yAxisIndex:idx,data:curve,showSymbol:false,smooth:0.25,smoothMonotone:'x',clip:false,silent:true,
			lineStyle:{color:lineColors[k],width:lineWidths[k]},z:3
		})
	})
})

var chart = echarts.init(document.getElementById('main'),null,{renderer:'canvas'})
chart.setOption({
	backgroundColor:'#fff',animation:false,
	title:titles,grid:grids,xAxis:xAxes,yAxis:yAxes,series:series
})
</script>
</body>
</html>
